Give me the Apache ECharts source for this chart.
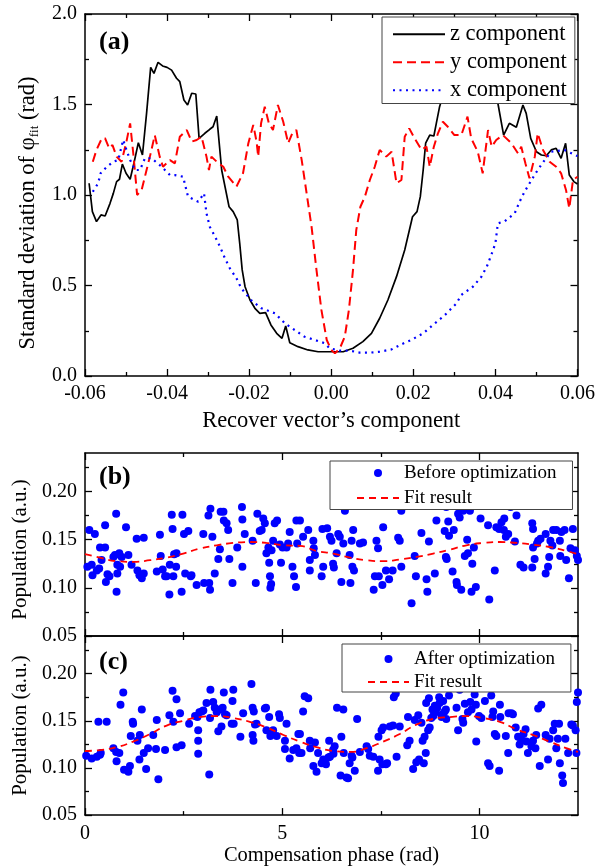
<!DOCTYPE html>
<html>
<head>
<meta charset="utf-8">
<script src="https://cdn.jsdelivr.net/npm/echarts@6/dist/echarts.min.js"></script>
<style>
  html, body { margin: 0; padding: 0; background: #fff; }
  #chart { width: 598px; height: 867px; }
</style>
</head>
<body>
<div id="chart"></div>
<script>
// panel (a): standard deviation vs recover vector's component
const zComp = [
  [-0.059, 1.065], [-0.0582, 0.908], [-0.0572, 0.853], [-0.0561, 0.89], [-0.0551, 0.884],
  [-0.0539, 0.954], [-0.0531, 1.009], [-0.0523, 1.074], [-0.0516, 1.087], [-0.0509, 1.171],
  [-0.05, 1.12], [-0.049, 1.087], [-0.048, 1.184], [-0.047, 1.289], [-0.046, 1.221],
  [-0.045, 1.451], [-0.044, 1.705], [-0.0432, 1.672], [-0.0422, 1.733], [-0.0411, 1.713],
  [-0.04, 1.705], [-0.0389, 1.69], [-0.0377, 1.645], [-0.0369, 1.626], [-0.0359, 1.525],
  [-0.035, 1.497], [-0.034, 1.562], [-0.033, 1.558], [-0.0322, 1.313], [-0.0308, 1.341],
  [-0.0296, 1.363], [-0.0288, 1.377], [-0.0279, 1.436], [-0.0267, 1.138], [-0.0249, 0.935],
  [-0.0239, 0.908], [-0.0229, 0.862], [-0.0223, 0.733], [-0.0217, 0.586], [-0.021, 0.493],
  [-0.0198, 0.42], [-0.0186, 0.374], [-0.0174, 0.346], [-0.016, 0.35], [-0.0147, 0.282],
  [-0.0133, 0.236], [-0.012, 0.208], [-0.0111, 0.276], [-0.0101, 0.184], [-0.0081, 0.162],
  [-0.0057, 0.144], [-0.0032, 0.134], [0, 0.134], [0.0029, 0.134], [0.0053, 0.153],
  [0.0077, 0.19], [0.0098, 0.236], [0.0118, 0.319], [0.0138, 0.42], [0.0159, 0.549],
  [0.0179, 0.696], [0.0198, 0.88], [0.0209, 0.908], [0.0217, 0.991], [0.0224, 1.138],
  [0.023, 1.286], [0.024, 1.331], [0.025, 1.326], [0.0256, 1.396], [0.0264, 1.488],
  [0.0276, 1.58], [0.030, 1.72], [0.033, 1.80], [0.036, 1.76], [0.039, 1.62],
  [0.0406, 1.507], [0.042, 1.331], [0.0434, 1.396], [0.0451, 1.374], [0.0467, 1.497],
  [0.0475, 1.451], [0.0486, 1.313], [0.05, 1.239], [0.0512, 1.221], [0.0524, 1.217],
  [0.0536, 1.249], [0.0548, 1.258], [0.056, 1.203], [0.0571, 1.286], [0.058, 1.11],
  [0.0591, 1.074], [0.06, 1.061]
];
const yComp = [
  [-0.0581, 1.184], [-0.0572, 1.249], [-0.0559, 1.313], [-0.0551, 1.313], [-0.0541, 1.258],
  [-0.0533, 1.276], [-0.0523, 1.212], [-0.0511, 1.184], [-0.0499, 1.295], [-0.049, 1.396],
  [-0.0482, 1.221], [-0.0473, 1.0], [-0.0462, 1.028], [-0.045, 1.138], [-0.044, 1.23],
  [-0.043, 1.331], [-0.0418, 1.212], [-0.041, 1.156], [-0.0393, 1.193], [-0.0381, 1.175],
  [-0.0369, 1.322], [-0.0352, 1.359], [-0.034, 1.295], [-0.0328, 1.304], [-0.0316, 1.322],
  [-0.0304, 1.212], [-0.0298, 1.138], [-0.0292, 1.212], [-0.0279, 1.184], [-0.0263, 1.156],
  [-0.0251, 1.101], [-0.0231, 1.046], [-0.0215, 1.12], [-0.0202, 1.286], [-0.019, 1.387],
  [-0.0182, 1.295], [-0.0178, 1.212], [-0.0171, 1.396], [-0.0162, 1.488], [-0.0152, 1.396],
  [-0.0142, 1.359], [-0.013, 1.497], [-0.0117, 1.405], [-0.0105, 1.286], [-0.0095, 1.341],
  [-0.0085, 1.359], [-0.0072, 1.193], [-0.006, 1.009], [-0.0048, 0.825], [-0.0036, 0.586],
  [-0.0024, 0.365], [-0.0011, 0.199], [0, 0.144], [0.0009, 0.125], [0.0021, 0.153],
  [0.0033, 0.217], [0.0043, 0.365], [0.0053, 0.586], [0.0061, 0.807], [0.0071, 0.935],
  [0.0082, 0.991], [0.0094, 1.083], [0.0106, 1.156], [0.0118, 1.249], [0.0134, 1.212],
  [0.0147, 1.239], [0.0159, 1.065], [0.0171, 1.083], [0.0179, 1.322], [0.019, 1.368],
  [0.0203, 1.313], [0.022, 1.249], [0.0232, 1.267], [0.024, 1.156], [0.025, 1.267],
  [0.026, 1.341], [0.0272, 1.405], [0.0284, 1.377], [0.03, 1.331], [0.0317, 1.331],
  [0.0332, 1.433], [0.0341, 1.313], [0.0357, 1.239], [0.0369, 1.12], [0.0382, 1.359],
  [0.0391, 1.267], [0.0402, 1.304], [0.0418, 1.331], [0.0439, 1.286], [0.0455, 1.23],
  [0.0463, 1.267], [0.0473, 1.175], [0.0483, 1.092], [0.0496, 1.212], [0.0503, 1.341],
  [0.0516, 1.249], [0.0532, 1.184], [0.0548, 1.156], [0.056, 1.12], [0.0572, 1.028],
  [0.058, 0.926], [0.0589, 1.083], [0.06, 1.101]
];
const xComp = [
  [-0.0581, 1.018], [-0.0568, 1.065], [-0.0562, 1.12], [-0.0547, 1.156], [-0.0531, 1.184],
  [-0.0519, 1.193], [-0.0507, 1.304], [-0.0499, 1.249], [-0.049, 1.193], [-0.0478, 1.138],
  [-0.0466, 1.138], [-0.0454, 1.203], [-0.0438, 1.203], [-0.0413, 1.156], [-0.0393, 1.11],
  [-0.0381, 1.11], [-0.0361, 1.101], [-0.0349, 0.991], [-0.0324, 0.963], [-0.031, 1.009],
  [-0.0304, 0.899], [-0.0296, 0.825], [-0.0283, 0.77], [-0.0271, 0.714], [-0.0259, 0.65],
  [-0.0247, 0.595], [-0.0231, 0.54], [-0.0219, 0.484], [-0.0194, 0.416], [-0.017, 0.374],
  [-0.0137, 0.346], [-0.0113, 0.291], [-0.0089, 0.254], [-0.0065, 0.217], [-0.004, 0.199],
  [-0.0016, 0.181], [-0.0004, 0.153], [0.0021, 0.14], [0.0045, 0.14], [0.0069, 0.129],
  [0.0094, 0.129], [0.0118, 0.134], [0.0147, 0.147], [0.0171, 0.175], [0.0195, 0.199],
  [0.0224, 0.236], [0.0248, 0.282], [0.0277, 0.337], [0.0305, 0.401], [0.0317, 0.448],
  [0.0345, 0.493], [0.0366, 0.549], [0.0379, 0.604], [0.039, 0.669], [0.04, 0.733],
  [0.0406, 0.843], [0.0423, 0.856], [0.0447, 0.899], [0.0459, 0.963], [0.0471, 1.018],
  [0.0488, 1.083], [0.0503, 1.138], [0.052, 1.193], [0.0536, 1.239], [0.0568, 1.249],
  [0.06, 1.215]
];

// panel (b): before optimization
const beforeOpt = [
  [0.06, 0.122], [0.11, 0.160], [0.17, 0.124], [0.25, 0.156], [0.19, 0.113], [0.30, 0.118],
  [0.36, 0.120], [0.38, 0.142], [0.42, 0.129], [0.51, 0.142], [0.51, 0.165], [0.53, 0.106],
  [0.57, 0.114], [0.62, 0.112], [0.72, 0.132], [0.76, 0.134], [0.79, 0.177], [0.80, 0.096],
  [0.82, 0.124], [0.82, 0.115], [0.87, 0.136], [0.89, 0.122], [0.93, 0.132], [1.04, 0.163],
  [1.10, 0.134], [1.18, 0.124], [1.31, 0.151], [1.33, 0.118], [1.38, 0.113], [1.44, 0.110],
  [1.49, 0.115], [1.49, 0.152], [1.82, 0.117], [1.90, 0.155], [1.92, 0.133], [1.97, 0.119],
  [2.03, 0.112], [2.07, 0.112], [2.14, 0.093], [2.15, 0.124], [2.20, 0.176], [2.22, 0.161],
  [2.24, 0.112], [2.26, 0.135], [2.31, 0.122], [2.32, 0.136], [2.45, 0.096], [2.47, 0.176],
  [2.51, 0.156], [2.54, 0.115], [2.62, 0.159], [2.68, 0.112], [2.70, 0.113], [2.83, 0.103],
  [3.00, 0.156], [3.02, 0.105], [3.15, 0.105], [3.17, 0.098], [3.13, 0.175], [3.18, 0.182],
  [3.23, 0.153], [3.29, 0.115], [3.38, 0.130], [3.42, 0.140], [3.44, 0.179], [3.51, 0.179],
  [3.52, 0.170], [3.59, 0.167], [3.63, 0.160], [3.66, 0.130], [3.74, 0.105], [3.86, 0.142],
  [3.98, 0.184], [3.99, 0.171], [3.99, 0.122], [4.05, 0.156], [4.25, 0.149], [4.33, 0.105],
  [4.37, 0.177], [4.43, 0.159], [4.48, 0.160], [4.52, 0.172], [4.56, 0.167], [4.60, 0.136],
  [4.65, 0.142], [4.67, 0.126], [4.69, 0.112], [4.70, 0.100], [4.72, 0.104], [4.73, 0.139],
  [4.77, 0.149], [4.81, 0.167], [4.87, 0.170], [4.94, 0.145], [4.97, 0.126], [5.01, 0.142],
  [5.11, 0.142], [5.15, 0.146], [5.19, 0.158], [5.26, 0.122], [5.30, 0.112], [5.35, 0.101],
  [5.36, 0.170], [5.38, 0.146], [5.45, 0.170], [5.53, 0.153], [5.66, 0.160], [5.79, 0.149],
  [5.80, 0.141], [5.83, 0.134], [5.70, 0.129], [5.70, 0.118], [6.00, 0.112], [6.02, 0.161],
  [6.14, 0.162], [6.04, 0.122], [6.21, 0.153], [6.25, 0.149], [6.29, 0.125], [6.31, 0.121],
  [6.38, 0.136], [6.42, 0.156], [6.46, 0.153], [6.50, 0.106], [6.55, 0.146], [6.59, 0.180],
  [6.71, 0.134], [6.76, 0.149], [6.73, 0.105], [6.80, 0.160], [6.78, 0.122], [6.82, 0.118],
  [6.97, 0.146], [7.05, 0.147], [7.32, 0.098], [7.35, 0.112], [7.39, 0.149], [7.43, 0.141],
  [7.45, 0.112], [7.54, 0.103], [7.56, 0.163], [7.63, 0.118], [7.71, 0.109], [7.80, 0.118],
  [7.94, 0.152], [7.98, 0.149], [8.02, 0.122], [8.02, 0.180], [8.28, 0.084], [8.36, 0.133],
  [8.39, 0.112], [8.53, 0.157], [8.66, 0.109], [8.68, 0.096], [8.72, 0.148], [8.87, 0.115],
  [8.91, 0.170], [9.12, 0.159], [9.15, 0.132], [9.17, 0.130], [9.16, 0.184], [9.21, 0.169],
  [9.23, 0.154], [9.35, 0.160], [9.32, 0.117], [9.42, 0.106], [9.43, 0.103], [9.46, 0.177],
  [9.50, 0.173], [9.54, 0.098], [9.59, 0.180], [9.63, 0.133], [9.69, 0.150], [9.71, 0.136],
  [9.76, 0.180], [9.80, 0.096], [9.82, 0.125], [9.86, 0.142], [9.91, 0.101], [10.03, 0.172],
  [10.22, 0.165], [10.25, 0.088], [10.39, 0.118], [10.43, 0.163], [10.50, 0.161], [10.56, 0.168],
  [10.62, 0.160], [10.63, 0.172], [10.67, 0.153], [10.73, 0.156], [10.79, 0.184], [10.90, 0.148],
  [10.94, 0.175], [11.04, 0.124], [11.12, 0.121], [11.34, 0.167], [11.34, 0.121], [11.36, 0.161],
  [11.36, 0.142], [11.40, 0.130], [11.46, 0.146], [11.49, 0.149], [11.55, 0.151], [11.68, 0.115],
  [11.68, 0.156], [11.74, 0.122], [11.77, 0.132], [11.80, 0.149], [11.85, 0.144], [11.87, 0.160],
  [11.95, 0.160], [12.04, 0.149], [12.05, 0.133], [12.08, 0.158], [12.16, 0.160], [12.27, 0.110],
  [12.20, 0.129], [12.31, 0.141], [12.37, 0.161], [12.42, 0.139], [12.47, 0.133], [12.50, 0.129]
];
const beforeFit = [
  [0, 0.135], [0.38, 0.1314], [0.80, 0.1277], [1.22, 0.127], [1.65, 0.1287], [2.07, 0.1314],
  [2.49, 0.1356], [2.91, 0.1407], [3.34, 0.1442], [3.76, 0.1466], [4.18, 0.1476], [4.60, 0.1466],
  [5.03, 0.1442], [5.45, 0.1435], [5.87, 0.1383], [6.29, 0.1356], [6.72, 0.1314], [7.14, 0.1287],
  [7.56, 0.1277], [7.98, 0.1294], [8.41, 0.1321], [8.83, 0.1356], [9.25, 0.1397], [9.67, 0.1442],
  [10.09, 0.1466], [10.52, 0.1476], [10.94, 0.1466], [11.36, 0.1448], [11.78, 0.1424],
  [12.21, 0.1383], [12.5, 0.1349]
];

// panel (c): after optimization
const afterOpt = [
  [0.03, 0.113], [0.17, 0.110], [0.30, 0.112], [0.34, 0.149], [0.38, 0.114], [0.40, 0.116],
  [0.55, 0.149], [0.72, 0.121], [0.79, 0.117], [0.80, 0.107], [0.87, 0.116], [0.90, 0.167],
  [0.97, 0.180], [0.99, 0.098], [1.10, 0.096], [1.14, 0.102], [1.16, 0.134], [1.21, 0.149],
  [1.22, 0.147], [1.33, 0.129], [1.38, 0.109], [1.39, 0.135], [1.44, 0.162], [1.49, 0.116],
  [1.55, 0.099], [1.60, 0.121], [1.73, 0.135], [1.80, 0.120], [1.82, 0.151], [1.86, 0.088],
  [2.03, 0.119], [2.14, 0.156], [2.22, 0.182], [2.24, 0.149], [2.32, 0.173], [2.32, 0.122],
  [2.41, 0.158], [2.45, 0.124], [2.64, 0.147], [2.79, 0.155], [2.85, 0.154], [2.87, 0.140],
  [2.87, 0.129], [2.87, 0.115], [2.90, 0.159], [2.96, 0.160], [3.00, 0.161], [3.08, 0.169],
  [3.15, 0.093], [3.17, 0.153], [3.18, 0.183], [3.25, 0.170], [3.29, 0.164], [3.34, 0.159],
  [3.38, 0.139], [3.42, 0.162], [3.46, 0.144], [3.49, 0.164], [3.52, 0.180], [3.55, 0.157],
  [3.59, 0.156], [3.72, 0.147], [3.74, 0.171], [3.76, 0.183], [3.77, 0.147], [3.94, 0.133],
  [4.01, 0.158], [4.22, 0.189], [4.25, 0.164], [4.25, 0.135], [4.27, 0.129], [4.28, 0.160],
  [4.31, 0.146], [4.35, 0.147], [4.56, 0.163], [4.59, 0.164], [4.60, 0.140], [4.67, 0.154],
  [4.70, 0.134], [4.77, 0.140], [4.86, 0.134], [4.92, 0.157], [4.94, 0.153], [5.07, 0.129],
  [5.07, 0.120], [5.11, 0.147], [5.19, 0.110], [5.28, 0.119], [5.36, 0.121], [5.41, 0.136],
  [5.43, 0.116], [5.45, 0.136], [5.53, 0.160], [5.49, 0.116], [5.57, 0.176], [5.66, 0.174],
  [5.70, 0.129], [5.71, 0.121], [5.83, 0.127], [5.79, 0.102], [5.87, 0.096], [5.91, 0.116],
  [6.00, 0.105], [6.04, 0.109], [6.11, 0.104], [6.17, 0.111], [6.19, 0.129], [6.21, 0.112],
  [6.29, 0.119], [6.30, 0.115], [6.33, 0.123], [6.39, 0.164], [6.48, 0.092], [6.50, 0.133],
  [6.55, 0.162], [6.56, 0.116], [6.63, 0.090], [6.67, 0.089], [6.71, 0.105], [6.76, 0.113],
  [6.78, 0.111], [6.84, 0.097], [6.90, 0.152], [6.97, 0.117], [7.14, 0.123], [7.18, 0.120],
  [7.22, 0.113], [7.31, 0.112], [7.43, 0.097], [7.44, 0.133], [7.47, 0.109], [7.52, 0.140],
  [7.54, 0.104], [7.56, 0.143], [7.63, 0.104], [7.66, 0.105], [7.73, 0.144], [7.81, 0.145],
  [7.83, 0.175], [7.88, 0.179], [7.90, 0.112], [7.98, 0.144], [8.19, 0.154], [8.17, 0.124],
  [8.23, 0.129], [8.32, 0.099], [8.36, 0.151], [8.40, 0.106], [8.45, 0.156], [8.47, 0.109],
  [8.53, 0.148], [8.56, 0.129], [8.59, 0.105], [8.61, 0.133], [8.64, 0.116], [8.65, 0.169],
  [8.70, 0.140], [8.72, 0.174], [8.78, 0.153], [8.74, 0.143], [8.81, 0.162], [8.83, 0.155],
  [8.87, 0.166], [8.89, 0.159], [8.93, 0.164], [8.98, 0.175], [8.99, 0.169], [9.04, 0.154],
  [9.06, 0.157], [9.08, 0.171], [9.12, 0.160], [9.15, 0.162], [9.16, 0.152], [9.23, 0.177],
  [9.42, 0.164], [9.46, 0.140], [9.50, 0.183], [9.57, 0.152], [9.59, 0.148], [9.63, 0.168],
  [9.71, 0.159], [9.77, 0.170], [9.80, 0.162], [9.84, 0.184], [9.88, 0.178], [9.91, 0.167],
  [9.92, 0.128], [9.99, 0.155], [10.05, 0.153], [10.14, 0.171], [10.22, 0.105], [10.26, 0.102],
  [10.30, 0.177], [10.33, 0.154], [10.35, 0.160], [10.39, 0.136], [10.43, 0.134], [10.52, 0.167],
  [10.50, 0.097], [10.53, 0.154], [10.67, 0.134], [10.73, 0.116], [10.74, 0.158], [10.81, 0.158],
  [10.85, 0.157], [10.92, 0.143], [10.98, 0.133], [11.02, 0.125], [11.06, 0.130], [11.12, 0.136],
  [11.17, 0.141], [11.19, 0.128], [11.23, 0.116], [11.32, 0.123], [11.36, 0.129], [11.42, 0.121],
  [11.44, 0.135], [11.49, 0.163], [11.53, 0.102], [11.57, 0.167], [11.68, 0.135], [11.74, 0.109],
  [11.78, 0.131], [11.87, 0.140], [11.91, 0.147], [11.95, 0.121], [12.02, 0.147], [11.99, 0.131],
  [12.04, 0.105], [12.10, 0.092], [12.12, 0.084], [12.18, 0.131], [12.25, 0.116], [12.33, 0.146],
  [12.37, 0.145], [12.46, 0.116], [12.50, 0.180], [12.47, 0.170], [12.44, 0.140]
];
const afterFit = [
  [0, 0.118], [0.38, 0.119], [0.80, 0.122], [1.22, 0.128], [1.65, 0.136], [2.07, 0.145],
  [2.49, 0.150], [2.91, 0.154], [3.34, 0.155], [3.76, 0.153], [4.18, 0.149], [4.60, 0.143],
  [5.03, 0.135], [5.45, 0.128], [5.87, 0.122], [6.29, 0.118], [6.71, 0.117], [7.14, 0.121],
  [7.56, 0.128], [7.98, 0.136], [8.40, 0.146], [8.83, 0.152], [9.25, 0.154], [9.67, 0.155],
  [10.09, 0.153], [10.52, 0.149], [10.94, 0.141], [11.36, 0.135], [11.78, 0.128], [12.2, 0.121],
  [12.5, 0.117]
];

// tick values
const compTicks = [-0.06, -0.04, -0.02, 0, 0.02, 0.04, 0.06];
const compMinor = [-0.05, -0.03, -0.01, 0.01, 0.03, 0.05];
const sdTicks = [0, 0.5, 1, 1.5, 2];
const sdMinor = [0.25, 0.75, 1.25, 1.75];
const phaseTicks = [0, 5, 10];
const phaseMinor = [2.5, 7.5];
const popTicks = [0.05, 0.10, 0.15, 0.20];
const popMinor = [0.075, 0.125, 0.175, 0.225];

const FONT = '"Liberation Serif", "Times New Roman", serif';
const chart = echarts.init(document.getElementById('chart'));

function mkAxis(grid, pos, min, max, ticks, len, showLine, label) {
  return {
    type: 'value', gridIndex: grid, position: pos, min: min, max: max,
    axisLine: { show: showLine, onZero: false, lineStyle: { color: '#000', width: 1.5 } },
    axisTick: { show: true, inside: true, length: len, customValues: ticks,
      lineStyle: { color: '#000', width: 1.3 } },
    axisLabel: label ? Object.assign({ customValues: ticks, color: '#000',
      fontFamily: FONT, fontSize: 20 }, label) : { show: false },
    splitLine: { show: false }
  };
}

// four axes per side pair: main (labels), opposite, and minor tick overlays
function axesFor(grid, p1, p2, min, max, major, minor, label, extra) {
  const main = Object.assign(mkAxis(grid, p1, min, max, major, 7, true, label), extra || {});
  return [
    main,
    mkAxis(grid, p2, min, max, major, 7, true, null),
    mkAxis(grid, p1, min, max, minor, 4, false, null),
    mkAxis(grid, p2, min, max, minor, 4, false, null)
  ];
}

const nameStyle = (size, pad) => ({ color: '#000', fontFamily: FONT, fontSize: size, padding: pad || 0 });
const popName = pad => ({ name: 'Population (a.u.)', nameLocation: 'middle', nameRotate: 90, nameGap: 49,
  nameTextStyle: nameStyle(21, pad) });

const xAxes = [].concat(
  axesFor(0, 'bottom', 'top', -0.06, 0.06, compTicks, compMinor,
    { margin: 8, formatter: v => v.toFixed(2) },
    { name: 'Recover vector\u2019s component', nameLocation: 'middle', nameGap: 34,
      nameTextStyle: nameStyle(22.5) }),
  axesFor(1, 'bottom', 'top', 0, 12.5, phaseTicks, phaseMinor, null),
  axesFor(2, 'bottom', 'top', 0, 12.5, phaseTicks, phaseMinor,
    { margin: 9, formatter: v => String(v) },
    { name: 'Compensation phase (rad)', nameLocation: 'middle', nameGap: 21,
      nameTextStyle: nameStyle(20.5) })
);

const yAxes = [].concat(
  axesFor(0, 'left', 'right', 0, 2, sdTicks, sdMinor,
    { margin: 8, formatter: v => v.toFixed(1) },
    { name: 'Standard deviation of \u03c6{sub|fit} (rad)', nameLocation: 'middle', nameRotate: 90,
      nameGap: 44, nameTextStyle: Object.assign(nameStyle(22.5, [0, 36, 0, 0]), {
        rich: { sub: { fontFamily: FONT, fontSize: 13, color: '#000', padding: [13, 0, 0, 0] } } }) }),
  axesFor(1, 'left', 'right', 0.05, 0.24, popTicks, popMinor,
    { margin: 8, formatter: v => v.toFixed(2) }, popName([0, 10, 0, 0])),
  axesFor(2, 'left', 'right', 0.05, 0.24, popTicks, popMinor,
    { margin: 8, formatter: v => v.toFixed(2) }, popName(0))
);

const panelLabel = (text, top) => ({
  text: text, left: 99, top: top, padding: 0,
  textStyle: { fontFamily: FONT, fontWeight: 'bold', fontSize: 26, color: '#000' }
});

const legendBase = {
  orient: 'vertical', selectedMode: false, backgroundColor: '#fff',
  borderColor: '#444', borderWidth: 1, borderRadius: 0,
  textStyle: { fontFamily: FONT, fontSize: 19, color: '#000' }
};
// line entries: hide the marker ECharts puts in the middle of the line icon
const lineEntry = name => ({ name: name, itemStyle: { opacity: 0 } });

const option = {
  animation: false,
  backgroundColor: '#fff',
  title: [panelLabel('(a)', 29), panelLabel('(b)', 464), panelLabel('(c)', 649)],
  grid: [
    { left: 85, top: 14, width: 493, height: 362 },
    { left: 85, top: 453, width: 493, height: 183 },
    { left: 85, top: 636, width: 493, height: 185 }
  ],
  xAxis: xAxes,
  yAxis: yAxes,
  legend: [
    Object.assign({}, legendBase, {
      data: [lineEntry('z component'), lineEntry('y component'), lineEntry('x component')],
      left: 382, top: 17, padding: [5.75, 8, 1.75, 10], itemWidth: 52, itemHeight: 14, itemGap: 5,
      textStyle: { fontFamily: FONT, fontSize: 22.5, color: '#000' }
    }),
    Object.assign({}, legendBase, {
      data: ['Before optimization', lineEntry('Fit result')],
      left: 330, top: 461, padding: [2.5, 16, 2, 26], itemWidth: 42, itemHeight: 8, itemGap: 6
    }),
    Object.assign({}, legendBase, {
      data: ['After optimization', lineEntry('Fit result')],
      left: 342, top: 644, padding: [5.5, 16, 0.5, 25], itemWidth: 41, itemHeight: 8, itemGap: 4
    })
  ],
  series: [
    { name: 'z component', type: 'line', xAxisIndex: 0, yAxisIndex: 0, data: zComp,
      symbol: 'none', itemStyle: { color: '#000' }, lineStyle: { color: '#000', width: 1.7 } },
    { name: 'y component', type: 'line', xAxisIndex: 0, yAxisIndex: 0, data: yComp,
      symbol: 'none', itemStyle: { color: '#f00' }, lineStyle: { color: '#f00', width: 2, type: [9, 5] } },
    { name: 'x component', type: 'line', xAxisIndex: 0, yAxisIndex: 0, data: xComp,
      symbol: 'none', itemStyle: { color: '#00f' }, lineStyle: { color: '#00f', width: 2.2, type: [2, 4.5] } },
    { name: 'Before optimization', type: 'scatter', xAxisIndex: 4, yAxisIndex: 4, data: beforeOpt,
      symbolSize: 8, itemStyle: { color: '#0000ff', opacity: 1 } },
    { name: 'Fit result', type: 'line', xAxisIndex: 4, yAxisIndex: 4, data: beforeFit, smooth: true,
      symbol: 'none', itemStyle: { color: '#f00' }, lineStyle: { color: '#f00', width: 1.8, type: [7, 5] } },
    { name: 'After optimization', type: 'scatter', xAxisIndex: 8, yAxisIndex: 8, data: afterOpt,
      symbolSize: 8, itemStyle: { color: '#0000ff', opacity: 1 } },
    { name: 'Fit result', type: 'line', xAxisIndex: 8, yAxisIndex: 8, data: afterFit, smooth: true,
      symbol: 'none', itemStyle: { color: '#f00' }, lineStyle: { color: '#f00', width: 1.8, type: [7, 5] } }
  ]
};

chart.setOption(option);
</script>
</body>
</html>
